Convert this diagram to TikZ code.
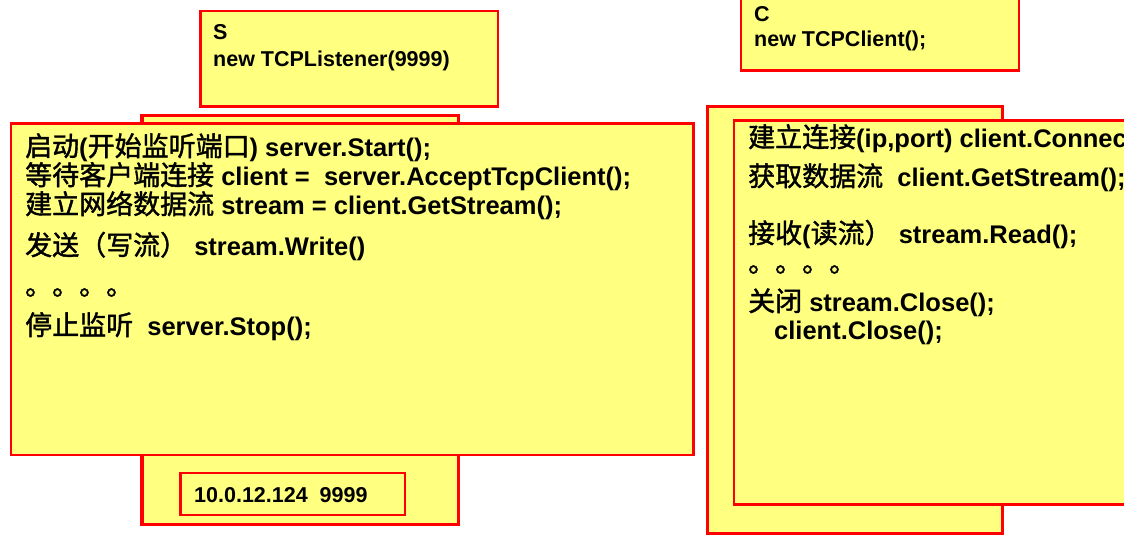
\documentclass[tikz,border=0pt]{standalone}
\usepackage{fontspec}
\setmainfont{Liberation Sans}
\newfontfamily\cjkfont[FakeBold=1.5]{Noto Sans CJK SC}
\newcommand{\zh}[1]{{\cjkfont\mdseries\fontsize{27}{30}\selectfont #1}}
\definecolor{slideyellow}{RGB}{255,255,128}
\definecolor{slidered}{RGB}{255,0,0}

\begin{document}
\begin{tikzpicture}[x=1pt,y=-1pt,
    box/.style={draw=slidered,fill=slideyellow,line width=2.4pt},
    backbox/.style={box,line width=3.2pt},
    code/.style={anchor=base west,inner sep=0pt,font=\fontsize{25.5}{30}\selectfont\bfseries},
    label/.style={code,font=\fontsize{21.5}{25}\selectfont\bfseries}]
  \useasboundingbox (0,0) rectangle (1124,541);
  \clip (0,0) rectangle (1124,541);
  % server side
  \draw[box] (200.5,11) rectangle (498,106.5);
  \node[label](s)at(213,39){S};
  \node[label](listener)at(213,66){new TCPListener(9999)};
  \draw[backbox] (142,115.5) rectangle (458.5,524.5);
  \draw[box] (11,123.5) rectangle (693.5,455);
  \node[code](start)at(25,156){\zh{启动}(\zh{开始监听端口}) server.Start();};
  \node[code](accept)at(25,185){\zh{等待客户端连接} client =\ \ server.AcceptTcpClient();};
  \node[code](sstream)at(25,214){\zh{建立网络数据流} stream = client.GetStream();};
  \node[code](write)at(25,255){\zh{发送（写流）} stream.Write()};
  \node[code](sdots)at(25,295){\zh{。。。。}};
  \node[code](stop)at(25,335){\zh{停止监听}\ \ server.Stop();};
  \draw[box] (180.5,473) rectangle (405,515);
  \node[label](ip)at(194,502){10.0.12.124\ \ 9999};
  % client side
  \draw[box] (741,-10) rectangle (1019,70.5);
  \node[label](c)at(754,21){C};
  \node[label](tcpclient)at(754,46){new TCPClient();};
  \draw[backbox] (707.5,106.5) rectangle (1002.5,533.5);
  \draw[box] (734,120.5) rectangle (1140,504.5);
  \node[code](connect)at(748,147){\zh{建立连接}(ip,port) client.Connect();};
  \node[code](cstream)at(748,186){\zh{获取数据流}\ \ client.GetStream();};
  \node[code](read)at(748,243){\zh{接收}(\zh{读流）} stream.Read();};
  \node[code](cdots)at(748,272){\zh{。。。。}};
  \node[code](close)at(748,311){\zh{关闭} stream.Close();};
  \node[code](cclose)at(774,339){client.Close();};
\end{tikzpicture}
\end{document}
